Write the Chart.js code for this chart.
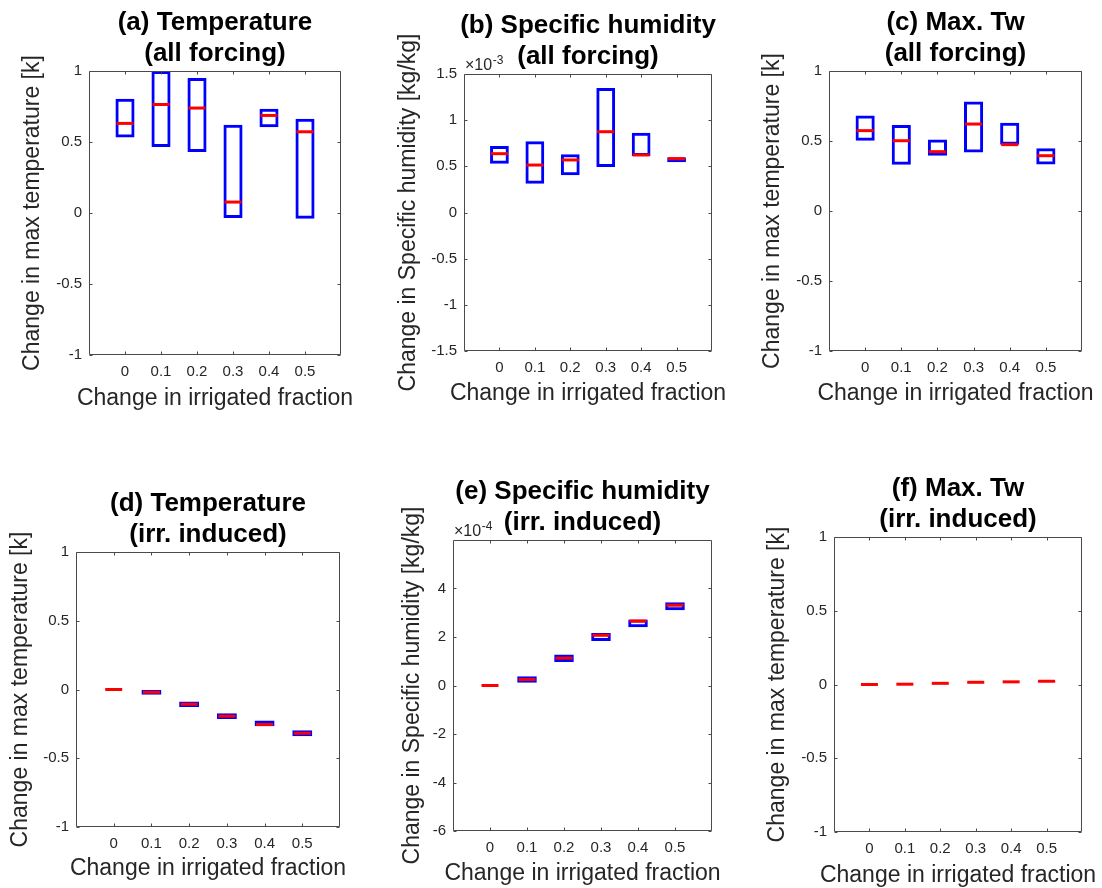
<!DOCTYPE html>
<html>
<head>
<meta charset="utf-8">
<script src="https://cdn.jsdelivr.net/npm/chart.js@4.4.1/dist/chart.umd.min.js"></script>
<style>
  html, body { margin: 0; padding: 0; background: #fff; overflow: hidden; width: 1102px; height: 888px; }
  canvas { position: absolute; }
</style>
</head>
<body>
<script>
// x positions and labels shared by all six panels
const fractions = [0, 0.1, 0.2, 0.3, 0.4, 0.5];
const xTickLabels = ['0', '0.1', '0.2', '0.3', '0.4', '0.5'];

// (a) temperature, all forcing
const tempAllLow  = [0.532, 0.464, 0.429, -0.035, 0.603, -0.040];
const tempAllHigh = [0.804, 1.000, 0.950, 0.621, 0.734, 0.664];
const tempAllMed  = [0.631, 0.764, 0.739, 0.077, 0.687, 0.572];

// (b) specific humidity, all forcing
const humAllLow  = [0.529e-3, 0.312e-3, 0.403e-3, 0.493e-3, 0.612e-3, 0.543e-3];
const humAllHigh = [0.720e-3, 0.771e-3, 0.630e-3, 1.348e-3, 0.864e-3, 0.598e-3];
const humAllMed  = [0.637e-3, 0.514e-3, 0.569e-3, 0.875e-3, 0.623e-3, 0.583e-3];

// (c) max Tw, all forcing
const twAllLow  = [0.502, 0.331, 0.395, 0.417, 0.474, 0.333];
const twAllHigh = [0.683, 0.614, 0.510, 0.783, 0.631, 0.448];
const twAllMed  = [0.574, 0.502, 0.424, 0.621, 0.474, 0.395];

// (d) temperature, irrigation induced
const tempIrrLow  = [0, -0.039, -0.127, -0.214, -0.267, -0.340];
const tempIrrHigh = [0, -0.003, -0.087, -0.172, -0.226, -0.296];
const tempIrrMed  = [0, -0.020, -0.107, -0.194, -0.255, -0.318];

// (e) specific humidity, irrigation induced
const humIrrLow  = [0, 0.11e-4, 0.97e-4, 1.83e-4, 2.40e-4, 3.10e-4];
const humIrrHigh = [0, 0.38e-4, 1.28e-4, 2.16e-4, 2.72e-4, 3.43e-4];
const humIrrMed  = [0, 0.25e-4, 1.13e-4, 2.07e-4, 2.66e-4, 3.31e-4];

// (f) max Tw, irrigation induced
const twIrrLow  = [0, 0.001, 0.007, 0.014, 0.017, 0.021];
const twIrrHigh = [0, 0.003, 0.009, 0.016, 0.019, 0.023];
const twIrrMed  = [0, 0.002, 0.008, 0.015, 0.018, 0.022];

// y tick values
const tempTicks = [-1, -0.5, 0, 0.5, 1];
const humAllTicks = [-1.5e-3, -1e-3, -0.5e-3, 0, 0.5e-3, 1e-3, 1.5e-3];
const humIrrTicks = [-6e-4, -4e-4, -2e-4, 0, 2e-4, 4e-4];

const tempLabel = 'Change in max temperature [k]';
const humLabel = 'Change in Specific humidity [kg/kg]';
const xLabel = 'Change in irrigated fraction';

const TITLE_LH = 31.2;
const TITLE_H = 64;
const AXIS_LH = 27.6;
const FONT = '"Liberation Sans", Arial, Helvetica, sans-serif';

Chart.defaults.font.family = FONT;
Chart.defaults.color = '#262626';

// plot area [left, top, right, bottom] in page pixels
const panels = [
    { plot: [89, 71, 341, 355], yTitleX: 33, xTitleOff: 43, title: ['(a) Temperature', '(all forcing)'],
      low: tempAllLow, high: tempAllHigh, med: tempAllMed, yMin: -1, yMax: 1, yTicks: tempTicks, factor: 1, yLabel: tempLabel },
    { plot: [464, 74, 712, 351], yTitleX: 409, xTitleOff: 42, title: ['(b) Specific humidity', '(all forcing)'],
      low: humAllLow, high: humAllHigh, med: humAllMed, yMin: -1.5e-3, yMax: 1.5e-3, yTicks: humAllTicks, factor: 1e-3, exp: '-3', yLabel: humLabel },
    { plot: [829, 71, 1082, 351], yTitleX: 773, xTitleOff: 42, title: ['(c) Max. Tw', '(all forcing)'],
      low: twAllLow, high: twAllHigh, med: twAllMed, yMin: -1, yMax: 1, yTicks: tempTicks, factor: 1, yLabel: tempLabel },
    { plot: [76, 552, 340, 827], yTitleX: 21, xTitleOff: 41, title: ['(d) Temperature', '(irr. induced)'],
      low: tempIrrLow, high: tempIrrHigh, med: tempIrrMed, yMin: -1, yMax: 1, yTicks: tempTicks, factor: 1, yLabel: tempLabel },
    { plot: [453, 540, 712, 831], yTitleX: 413, xTitleOff: 42, title: ['(e) Specific humidity', '(irr. induced)'],
      low: humIrrLow, high: humIrrHigh, med: humIrrMed, yMin: -6e-4, yMax: 6e-4, yTicks: humIrrTicks, factor: 1e-4, exp: '-4', yLabel: humLabel },
    { plot: [834, 537, 1082, 832], yTitleX: 778, xTitleOff: 43, title: ['(f) Max. Tw', '(irr. induced)'],
      low: twIrrLow, high: twIrrHigh, med: twIrrMed, yMin: -1, yMax: 1, yTicks: tempTicks, factor: 1, yLabel: tempLabel }
];

// matlab style box with inward ticks on all four sides
const axisBox = {
    id: 'axisBox',
    afterDraw(chart) {
        const { ctx, chartArea: a } = chart;
        const xs = chart.scales.x, ys = chart.scales.y;
        const l = Math.round(a.left) + 0.5, r = Math.round(a.right) - 0.5;
        const t = Math.round(a.top) + 0.5, b = Math.round(a.bottom) - 0.5;
        ctx.save();
        ctx.strokeStyle = '#4a4a4a';
        ctx.lineWidth = 1;
        ctx.beginPath();
        ctx.rect(l, t, r - l, b - t);
        xs.ticks.forEach(tk => {
            const px = Math.round(xs.getPixelForValue(tk.value)) + 0.5;
            ctx.moveTo(px, b); ctx.lineTo(px, b - 3);
            ctx.moveTo(px, t); ctx.lineTo(px, t + 3);
        });
        ys.ticks.forEach(tk => {
            const py = Math.round(ys.getPixelForValue(tk.value)) + 0.5;
            ctx.moveTo(l, py); ctx.lineTo(l + 3, py);
            ctx.moveTo(r, py); ctx.lineTo(r - 3, py);
        });
        ctx.stroke();
        ctx.restore();
    }
};

// "x10^n" multiplier above the y axis
const expLabel = {
    id: 'expLabel',
    afterDraw(chart, args, opts) {
        if (!opts.exp) return;
        const { ctx, chartArea: a } = chart;
        ctx.save();
        ctx.fillStyle = '#262626';
        ctx.textBaseline = 'alphabetic';
        ctx.textAlign = 'left';
        ctx.font = '16px ' + FONT;
        const base = '\u00d710';
        ctx.fillText(base, a.left + 1, a.top - 4);
        const w = ctx.measureText(base).width;
        ctx.font = '12px ' + FONT;
        ctx.fillText(opts.exp, a.left + 1 + w + 0.5, a.top - 10);
        ctx.restore();
    }
};

function fmt(v, factor) {
    return String(+(v / factor).toFixed(2));
}

function makeChart(p) {
    const [l, t, r, b] = p.plot;
    const left = Math.round(p.yTitleX - AXIS_LH / 2);
    const L = l - left;
    const width = (r - l) + 2 * L;
    const top = t - TITLE_H;
    const height = Math.ceil(TITLE_H + (b - t) + p.xTitleOff + AXIS_LH / 2);
    const xAxisH = height - TITLE_H - AXIS_LH - (b - t);

    const canvas = document.createElement('canvas');
    canvas.width = width;
    canvas.height = height;
    canvas.style.left = left + 'px';
    canvas.style.top = top + 'px';
    canvas.style.width = width + 'px';
    canvas.style.height = height + 'px';
    document.body.appendChild(canvas);

    new Chart(canvas, {
        type: 'bar',
        data: {
            datasets: [{
                type: 'line',
                data: fractions.map((x, i) => ({ x: x, y: p.med[i] })),
                showLine: false,
                pointStyle: 'line',
                pointRadius: 8.5,
                pointHoverRadius: 8.5,
                pointBorderColor: '#ff0000',
                pointBorderWidth: 3,
                order: 0
            }, {
                type: 'bar',
                data: fractions.map((x, i) => ({ x: x, y: [p.low[i], p.high[i]] })),
                backgroundColor: 'rgba(0, 0, 0, 0)',
                borderColor: '#0000ff',
                borderWidth: 3,
                borderSkipped: false,
                barPercentage: 0.53,
                categoryPercentage: 1,
                order: 1
            }]
        },
        options: {
            responsive: false,
            animation: false,
            events: [],
            layout: { padding: 0 },
            plugins: {
                legend: { display: false },
                tooltip: { enabled: false },
                title: {
                    display: true,
                    text: p.title,
                    color: '#000',
                    font: { size: 26, weight: 'bold', lineHeight: TITLE_LH / 26 },
                    padding: { top: 0, bottom: TITLE_H - 2 * TITLE_LH }
                },
                subtitle: {
                    display: true,
                    position: 'bottom',
                    text: xLabel,
                    color: '#262626',
                    font: { size: 23, lineHeight: 1.2 },
                    padding: 0
                },
                expLabel: { exp: p.exp }
            },
            scales: {
                x: {
                    type: 'linear',
                    min: -0.1,
                    max: 0.6,
                    offset: false,
                    bounds: 'data',
                    grid: { display: false, drawTicks: false, offset: false },
                    border: { display: false },
                    afterBuildTicks: s => { s.ticks = fractions.map(v => ({ value: v })); },
                    afterFit: s => { s.height = xAxisH; },
                    ticks: {
                        font: { size: 15 },
                        padding: 8,
                        maxRotation: 0,
                        minRotation: 0,
                        autoSkip: false,
                        callback: (v, i) => xTickLabels[i]
                    }
                },
                y: {
                    type: 'linear',
                    min: p.yMin,
                    max: p.yMax,
                    bounds: 'data',
                    grid: { display: false, drawTicks: false },
                    border: { display: false },
                    afterBuildTicks: s => { s.ticks = p.yTicks.map(v => ({ value: v })); },
                    afterFit: s => { s.width = L; },
                    ticks: {
                        font: { size: 15 },
                        padding: 7,
                        autoSkip: false,
                        callback: v => fmt(v, p.factor)
                    },
                    title: {
                        display: true,
                        text: p.yLabel,
                        color: '#262626',
                        font: { size: 23, lineHeight: 1.2 },
                        padding: 0
                    }
                },
                // empty right-hand axis so the titles centre over the plot
                yRight: {
                    type: 'linear',
                    position: 'right',
                    min: 0,
                    max: 1,
                    grid: { display: false, drawTicks: false },
                    border: { display: false },
                    ticks: { display: false },
                    afterFit: s => { s.width = L; }
                }
            }
        },
        plugins: [axisBox, expLabel]
    });
}

panels.forEach(makeChart);
</script>
</body>
</html>
